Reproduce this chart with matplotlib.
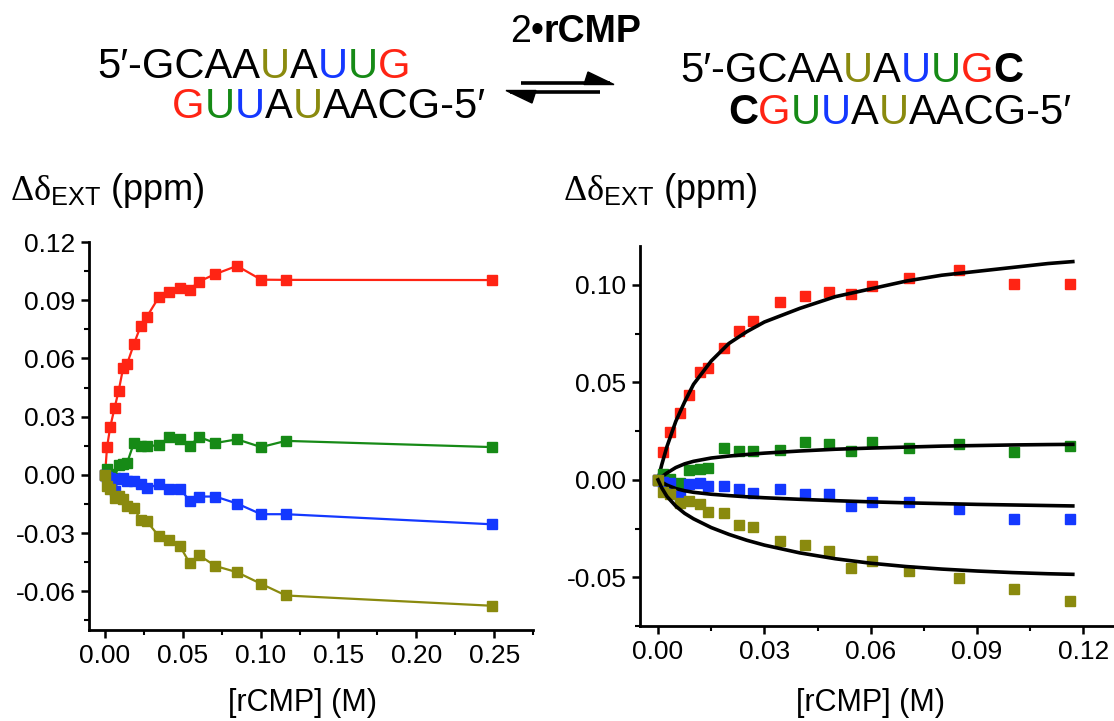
import matplotlib
matplotlib.use("Agg")
import matplotlib.pyplot as plt
from matplotlib.patches import Polygon
from matplotlib.ticker import MultipleLocator, FormatStrFormatter

plt.rcParams['font.family'] = ['Liberation Sans', 'DejaVu Sans']
plt.rcParams['mathtext.fontset'] = 'custom'
plt.rcParams['mathtext.rm'] = 'Liberation Serif'
plt.rcParams['mathtext.sf'] = 'Liberation Sans'
plt.rcParams['mathtext.it'] = 'Liberation Serif:italic'

# [rCMP] (M) for each titration point
conc = [0, 0.0013, 0.0033, 0.0061, 0.0088, 0.0117, 0.0142, 0.0186, 0.0228, 0.0269,
        0.0345, 0.0414, 0.0481, 0.0544, 0.0603, 0.0709, 0.0848, 0.1003, 0.1162, 0.2486]

# chemical shift changes (ppm), one list per residue colour
d_red = [0, 0.0143, 0.0245, 0.0344, 0.0434, 0.0553, 0.0572, 0.0675, 0.0765, 0.0815,
         0.0915, 0.0945, 0.0965, 0.0954, 0.0996, 0.1035, 0.1077, 0.1006, 0.1005, 0.1004]
d_green = [0, 0.0028, 0.0002, -0.0017, 0.0050, 0.0058, 0.0062, 0.0165, 0.0146, 0.0146,
           0.0154, 0.0194, 0.0184, 0.0149, 0.0195, 0.0164, 0.0183, 0.0143, 0.0175, 0.0143]
d_blue = [0, -0.0010, -0.0015, -0.0083, -0.0020, -0.0018, -0.0032, -0.0032, -0.0049, -0.0069,
          -0.0049, -0.0071, -0.0071, -0.0134, -0.0112, -0.0112, -0.0148, -0.0203, -0.0203, -0.0255]
d_olive = [0, -0.0060, -0.0075, -0.0117, -0.0110, -0.0125, -0.0163, -0.0170, -0.0233, -0.0240,
           -0.0315, -0.0335, -0.0367, -0.0455, -0.0414, -0.0470, -0.0502, -0.0562, -0.0622, -0.0675]

# fitted curves
fit_x = [0, 0.001, 0.0025, 0.005, 0.0075, 0.01, 0.015, 0.02, 0.025, 0.03, 0.04, 0.05,
         0.06, 0.07, 0.08, 0.09, 0.10, 0.11, 0.117]
fit_red = [0, 0.0075, 0.017, 0.030, 0.040, 0.049, 0.061, 0.070, 0.076, 0.081, 0.088, 0.094,
           0.098, 0.102, 0.105, 0.107, 0.109, 0.111, 0.112]
fit_green = [0, 0.0015, 0.0035, 0.0063, 0.0082, 0.0095, 0.0112, 0.0122, 0.0130, 0.0137, 0.0148,
             0.0157, 0.0163, 0.0168, 0.0173, 0.0176, 0.0179, 0.0181, 0.0182]
fit_blue = [0, -0.0012, -0.0027, -0.0045, -0.0056, -0.0064, -0.0074, -0.0081, -0.0087, -0.0092,
            -0.0100, -0.0107, -0.0113, -0.0118, -0.0122, -0.0126, -0.0129, -0.0132, -0.0134]
fit_olive = [0, -0.0040, -0.0085, -0.0135, -0.0172, -0.0200, -0.0245, -0.0280, -0.0310, -0.0335,
             -0.0375, -0.0405, -0.0428, -0.0445, -0.0458, -0.0468, -0.0476, -0.0482, -0.0485]

RED, GREEN, BLUE, OLIVE = '#ff2414', '#168a16', '#1438ff', '#8a8a0e'
series = [(d_red, RED), (d_green, GREEN), (d_blue, BLUE), (d_olive, OLIVE)]
fits = [fit_red, fit_green, fit_blue, fit_olive]

fig = plt.figure(figsize=(11.14, 7.21), dpi=100)


def style_axes(ax):
    for s in ['top', 'right']:
        ax.spines[s].set_visible(False)
    for s in ['left', 'bottom']:
        ax.spines[s].set_linewidth(2)
    ax.tick_params(which='major', direction='out', length=6, width=1.8, labelsize=19, pad=4)
    ax.tick_params(which='minor', direction='out', length=3.5, width=1.5)


# left panel: raw titration data joined by lines
ax1 = fig.add_axes([0.0803, 0.1262, 0.3982, 0.5381])
for ys, c in series:
    ax1.plot(conc, ys, '-s', color=c, mec=c, ms=6.5, lw=1.6)
ax1.set_xlim(-0.01, 0.275)
ax1.set_ylim(-0.08, 0.12)
ax1.xaxis.set_major_locator(MultipleLocator(0.05))
ax1.xaxis.set_minor_locator(MultipleLocator(0.025))
ax1.yaxis.set_major_locator(MultipleLocator(0.03))
ax1.yaxis.set_minor_locator(MultipleLocator(0.015))
ax1.xaxis.set_major_formatter(FormatStrFormatter('%.2f'))
ax1.yaxis.set_major_formatter(FormatStrFormatter('%.2f'))
style_axes(ax1)

# right panel: data up to 0.12 M with fitted curves
ax2 = fig.add_axes([0.5748, 0.1318, 0.4296, 0.527])
for (ys, c), fy in zip(series, fits):
    ax2.plot(conc[:-1], ys[:-1], 's', color=c, mec=c, ms=6.5, ls='none')
    ax2.plot(fit_x, fy, '-', color='black', lw=2.6)
ax2.set_xlim(-0.005, 0.13)
ax2.set_ylim(-0.075, 0.12)
ax2.xaxis.set_major_locator(MultipleLocator(0.03))
ax2.xaxis.set_minor_locator(MultipleLocator(0.015))
ax2.yaxis.set_major_locator(MultipleLocator(0.05))
ax2.yaxis.set_minor_locator(MultipleLocator(0.025))
ax2.xaxis.set_major_formatter(FormatStrFormatter('%.2f'))
ax2.yaxis.set_major_formatter(FormatStrFormatter('%.2f'))
style_axes(ax2)

# overlay in pixel units for the scheme and axis titles
ov = fig.add_axes([0, 0, 1, 1])
ov.set_xlim(0, 1114)
ov.set_ylim(721, 0)
ov.axis('off')


def seq_text(x, y, parts, size=30):
    t = None
    for s, c, w in parts:
        if t is None:
            t = ov.text(x, y, s, color=c, fontsize=size, fontweight=w, va='baseline')
        else:
            t = ov.annotate(s, xy=(1, 0), xycoords=t, xytext=(0, 0), textcoords='offset points',
                            color=c, fontsize=size, fontweight=w, va='bottom')


K = 'black'
seq_text(97, 78, [("5′-GCAA", K, 'normal'), ("U", OLIVE, 'normal'), ("A", K, 'normal'),
                  ("U", BLUE, 'normal'), ("U", GREEN, 'normal'), ("G", RED, 'normal')])
seq_text(172, 118, [("G", RED, 'normal'), ("U", GREEN, 'normal'), ("U", BLUE, 'normal'),
                    ("A", K, 'normal'), ("U", OLIVE, 'normal'), ("AACG-5′", K, 'normal')])
seq_text(680, 82, [("5′-GCAA", K, 'normal'), ("U", OLIVE, 'normal'), ("A", K, 'normal'),
                   ("U", BLUE, 'normal'), ("U", GREEN, 'normal'), ("G", RED, 'normal'),
                   ("C", K, 'bold')])
seq_text(728, 124, [("C", K, 'bold'), ("G", RED, 'normal'), ("U", GREEN, 'normal'),
                    ("U", BLUE, 'normal'), ("A", K, 'normal'), ("U", OLIVE, 'normal'),
                    ("AACG-5′", K, 'normal')])
seq_text(510, 42, [("2•", K, 'normal'), ("rCMP", K, 'bold')], size=27)

# equilibrium harpoons
ov.plot([521, 610], [83, 83], color=K, lw=2.6, solid_capstyle='butt')
ov.add_patch(Polygon([[588, 72], [614, 84.5], [584, 84.5]], closed=True, color=K))
ov.plot([510, 600], [92, 92], color=K, lw=2.6, solid_capstyle='butt')
ov.add_patch(Polygon([[532, 103], [506, 90.5], [536, 90.5]], closed=True, color=K))

ylab = r'$\mathrm{\Delta\delta}_{\mathsf{EXT}}$ (ppm)'
ov.text(10, 200, ylab, fontsize=26, va='baseline')
ov.text(563, 200, ylab, fontsize=26, va='baseline')
ov.text(303, 703, '[rCMP] (M)', fontsize=22, ha='center', va='center')
ov.text(870, 703, '[rCMP] (M)', fontsize=22, ha='center', va='center')

fig.savefig('out.png', dpi=100)
